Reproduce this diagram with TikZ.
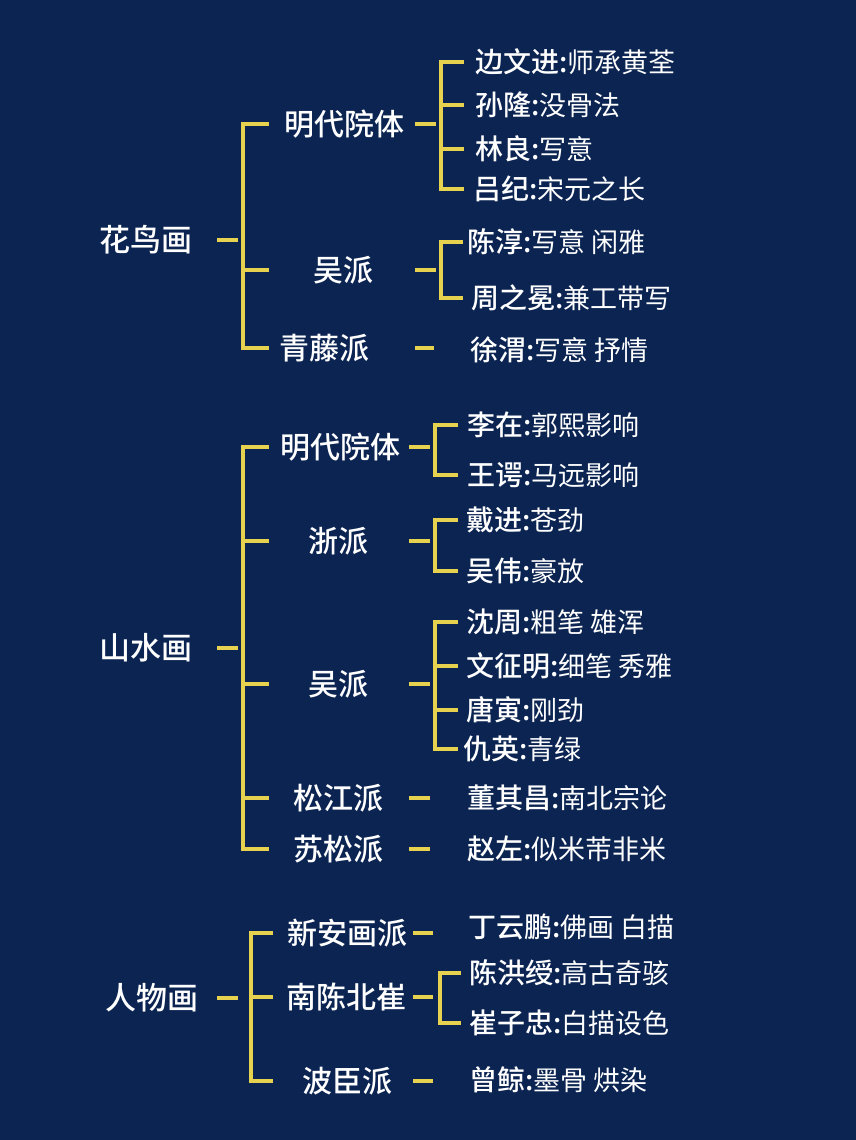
\documentclass[tikz,border=0pt]{standalone}
\usepackage{fontspec}
\usepackage{tikz}
\usetikzlibrary{calc}
\newfontfamily\cjk{Noto Sans CJK SC}[BoldFont={Noto Sans CJK SC Medium}]
\definecolor{bgnavy}{HTML}{0B2452}
\definecolor{lineyellow}{HTML}{E6D24E}
\newcommand{\nm}[1]{{\bfseries\fontsize{28}{28}\selectfont #1:}}
\tikzset{
    br/.style={draw=lineyellow, line width=3.3pt},
    root/.style={font=\cjk\bfseries\fontsize{31}{31}\selectfont, text=white, inner sep=0pt},
    school/.style={font=\cjk\bfseries\fontsize{30}{30}\selectfont, text=white, inner sep=0pt},
    leaf/.style={font=\cjk\fontsize{27}{27}\selectfont, text=white, inner sep=0pt, anchor=west},
}
\begin{document}
\begin{tikzpicture}[x=1pt, y=-1pt]
    \fill[bgnavy] (0,0) rectangle (856,1140);
    \useasboundingbox (0,0) rectangle (856,1140);

    % 花鸟画
    \node[root] (hn) at (146, 240) {花鸟画};
    \node[school] (hn1) at (344, 124) {明代院体};
    \node[school] (hn2) at (343, 270) {吴派};
    \node[school] (hn3) at (324, 348) {青藤派};
    \node[leaf] (hn11) at (475, 62) {\nm{边文进}师承黄荃};
    \node[leaf] (hn12) at (475, 105) {\nm{孙隆}没骨法};
    \node[leaf] (hn13) at (475, 149) {\nm{林良}写意};
    \node[leaf] (hn14) at (473, 189) {\nm{吕纪}宋元之长};
    \node[leaf] (hn21) at (467, 242) {\nm{陈淳}写意 闲雅};
    \node[leaf] (hn22) at (471, 298) {\nm{周之冕}兼工带写};
    \node[leaf] (hn31) at (470, 350) {\nm{徐渭}写意 抒情};

    \coordinate (hn-s) at (217, 0);
    \coordinate (hn-b) at (243, 0);
    \coordinate (hs-s) at (415, 0);
    \coordinate (hs-b) at (441, 0);
    \draw[br] (hn-s |- hn) -- +(21,0);
    \draw[br] ($(hn-b |- hn1)+(26,0)$) -| (hn-b |- hn3) -- +(26,0)
        (hn-b |- hn2) -- +(26,0);
    \draw[br] (hs-s |- hn1) -- +(21,0)
        (hs-s |- hn2) -- +(21,0)
        (hs-s |- hn3) -- +(19,0);
    \draw[br] ($(hs-b |- hn11)+(23,0)$) -| (hs-b |- hn14) -- +(23,0)
        (hs-b |- hn12) -- +(23,0)
        (hs-b |- hn13) -- +(23,0);
    \draw[br] ($(hs-b |- hn21)+(22,0)$) -| (hs-b |- hn22) -- +(22,0);

    % 山水画
    \node[root] (sn) at (146, 648) {山水画};
    \node[school] (sn1) at (340, 447) {明代院体};
    \node[school] (sn2) at (338, 541) {浙派};
    \node[school] (sn3) at (338, 684) {吴派};
    \node[school] (sn4) at (338, 798) {松江派};
    \node[school] (sn5) at (338, 849) {苏松派};
    \node[leaf] (sn11) at (467, 425) {\nm{李在}郭熙影响};
    \node[leaf] (sn12) at (467, 475) {\nm{王谔}马远影响};
    \node[leaf] (sn21) at (466, 520) {\nm{戴进}苍劲};
    \node[leaf] (sn22) at (466, 571) {\nm{吴伟}豪放};
    \node[leaf] (sn31) at (466, 622) {\nm{沈周}粗笔 雄浑};
    \node[leaf] (sn32) at (466, 666) {\nm{文征明}细笔 秀雅};
    \node[leaf] (sn33) at (466, 710) {\nm{唐寅}刚劲};
    \node[leaf] (sn34) at (463, 749) {\nm{仇英}青绿};
    \node[leaf] (sn41) at (467, 798) {\nm{董其昌}南北宗论};
    \node[leaf] (sn51) at (467, 849) {\nm{赵左}似米芾非米};

    \coordinate (sn-s) at (217, 0);
    \coordinate (sn-b) at (243, 0);
    \coordinate (ss-s) at (409, 0);
    \coordinate (ss-b) at (435, 0);
    \draw[br] (sn-s |- sn) -- +(21,0);
    \draw[br] ($(sn-b |- sn1)+(26,0)$) -| (sn-b |- sn5) -- +(26,0)
        (sn-b |- sn2) -- +(26,0)
        (sn-b |- sn3) -- +(26,0)
        (sn-b |- sn4) -- +(26,0);
    \draw[br] (ss-s |- sn1) -- +(21,0)
        (ss-s |- sn2) -- +(21,0)
        (ss-s |- sn3) -- +(21,0)
        (ss-s |- sn4) -- +(21,0)
        (ss-s |- sn5) -- +(21,0);
    \draw[br] ($(ss-b |- sn11)+(23,0)$) -| (ss-b |- sn12) -- +(23,0);
    \draw[br] ($(ss-b |- sn21)+(23,0)$) -| (ss-b |- sn22) -- +(23,0);
    \draw[br] ($(ss-b |- sn31)+(23,0)$) -| (ss-b |- sn34) -- +(23,0)
        (ss-b |- sn32) -- +(23,0)
        (ss-b |- sn33) -- +(23,0);

    % 人物画
    \node[root] (rn) at (152, 998) {人物画};
    \node[school] (rn1) at (347, 933) {新安画派};
    \node[school] (rn2) at (346, 997) {南陈北崔};
    \node[school] (rn3) at (347, 1081) {波臣派};
    \node[leaf] (rn11) at (468, 927) {\nm{丁云鹏}佛画 白描};
    \node[leaf] (rn21) at (469, 973) {\nm{陈洪绶}高古奇骇};
    \node[leaf] (rn22) at (469, 1023) {\nm{崔子忠}白描设色};
    \node[leaf] (rn31) at (469, 1080) {\nm{曾鲸}墨骨 烘染};

    \coordinate (rn-s) at (217, 0);
    \coordinate (rn-b) at (251, 0);
    \coordinate (rs-s) at (413, 0);
    \coordinate (rs-b) at (440, 0);
    \draw[br] (rn-s |- rn) -- +(21,0);
    \draw[br] ($(rn-b |- rn1)+(22,0)$) -| (rn-b |- rn3) -- +(22,0)
        (rn-b |- rn2) -- +(22,0);
    \draw[br] (rs-s |- rn1) -- +(20,0)
        (rs-s |- rn2) -- +(20,0)
        (rs-s |- rn3) -- +(20,0);
    \draw[br] ($(rs-b |- rn21)+(21,0)$) -| (rs-b |- rn22) -- +(21,0);
\end{tikzpicture}
\end{document}
